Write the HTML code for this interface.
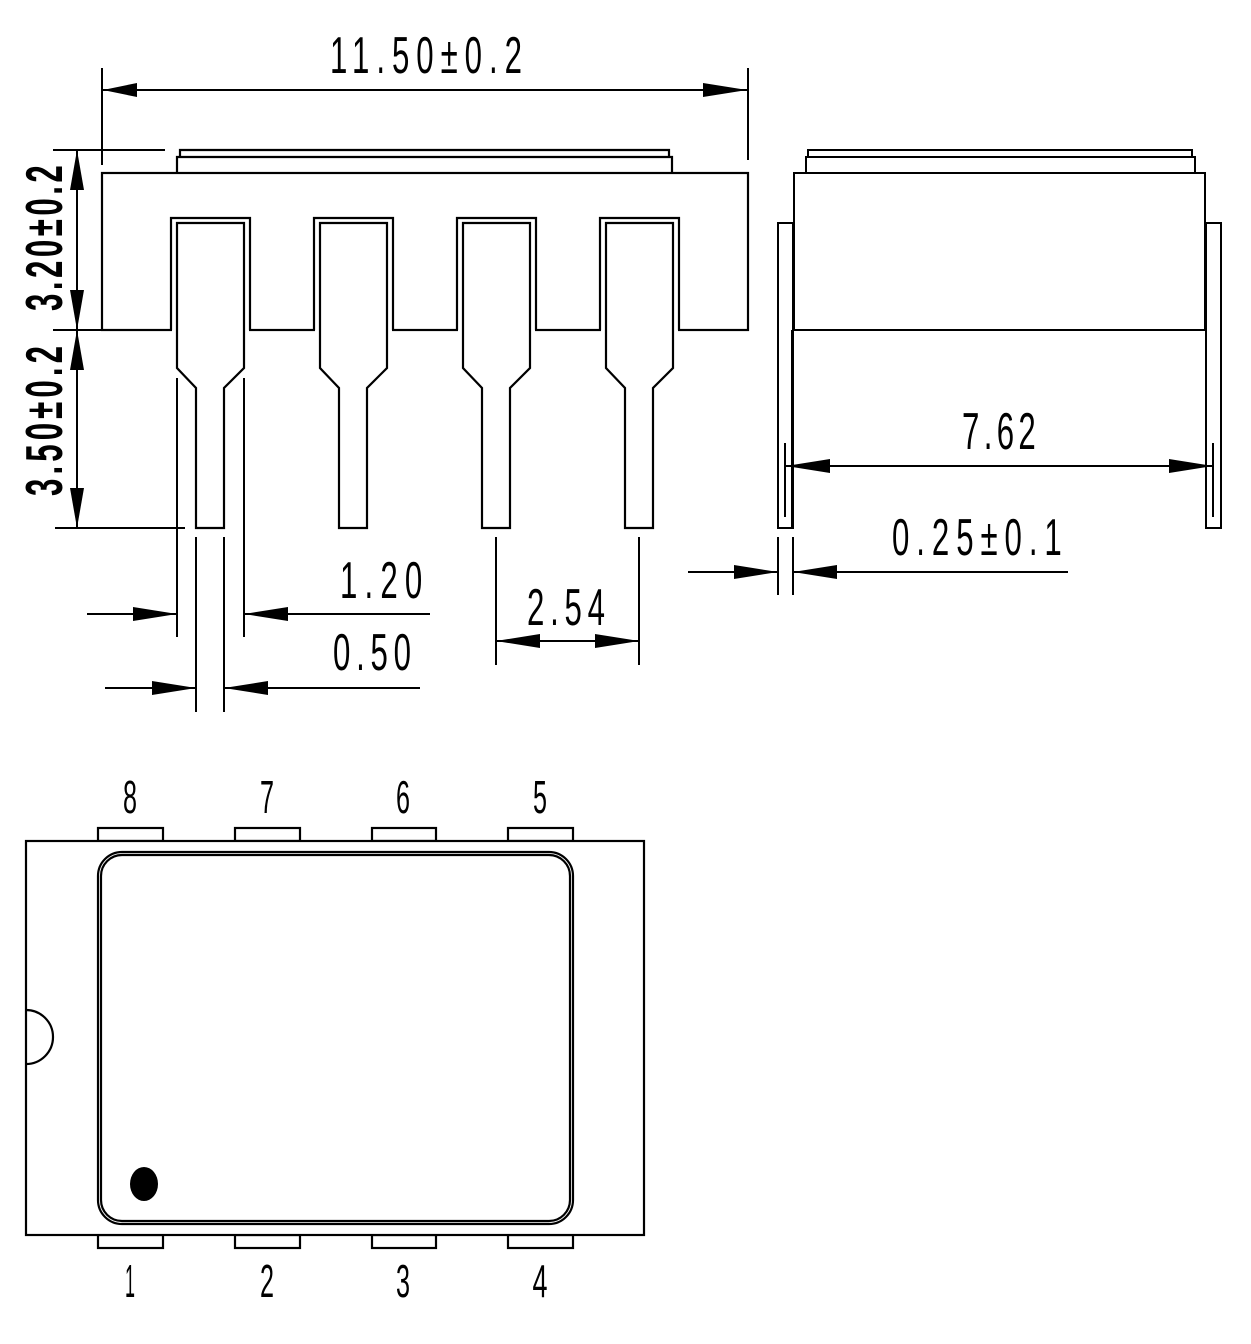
<!DOCTYPE html>
<html><head><meta charset="utf-8"><style>
html,body{margin:0;padding:0;background:#fff;}
svg{display:block;}
text{font-family:"Liberation Sans Narrow","Liberation Sans",sans-serif;fill:#000;}
</style></head><body>
<svg width="1251" height="1344" viewBox="0 0 1251 1344" xmlns="http://www.w3.org/2000/svg">
<defs>
<g id="pin" fill="none" stroke="#000" stroke-width="2.2">
  <path d="M171,330 V218 H250 V330"/>
  <path d="M177,330 V223 H244 V330"/>
  <path d="M177,330 V368 L196,388 V528 H224 V388 L244,368 V330"/>
</g>
</defs>
<g fill="none" stroke="#000" stroke-width="2.2">
  <rect x="102" y="173" width="646" height="157" fill="#fff"/>
  <path d="M177,173 V157 H672 V173"/>
  <path d="M180,157 V150 H669 V157"/>
</g>
<rect x="172" y="219" width="77" height="113" fill="#fff"/>
<rect x="315" y="219" width="77" height="113" fill="#fff"/>
<rect x="458" y="219" width="77" height="113" fill="#fff"/>
<rect x="601" y="219" width="77" height="113" fill="#fff"/>
<use href="#pin"/>
<use href="#pin" x="143"/>
<use href="#pin" x="286"/>
<use href="#pin" x="429"/>
<g fill="none" stroke="#000" stroke-width="2">
  <line x1="102" y1="68" x2="102" y2="165"/>
  <line x1="748" y1="68" x2="748" y2="160"/>
  <line x1="103" y1="90" x2="747" y2="90"/>
  <line x1="53" y1="150" x2="165" y2="150"/>
  <line x1="53" y1="330" x2="102" y2="330"/>
  <line x1="55" y1="528" x2="185" y2="528"/>
  <line x1="77" y1="150" x2="77" y2="528"/>
  <line x1="177" y1="378" x2="177" y2="637"/>
  <line x1="244" y1="378" x2="244" y2="637"/>
  <line x1="196" y1="537" x2="196" y2="712"/>
  <line x1="224" y1="537" x2="224" y2="712"/>
  <line x1="496" y1="537" x2="496" y2="665"/>
  <line x1="639" y1="537" x2="639" y2="665"/>
  <line x1="87" y1="614" x2="177" y2="614"/>
  <line x1="244" y1="614" x2="430" y2="614"/>
  <line x1="105" y1="688" x2="196" y2="688"/>
  <line x1="224" y1="688" x2="420" y2="688"/>
  <line x1="496" y1="641" x2="639" y2="641"/>
  <rect x="794" y="173" width="411" height="157" fill="#fff"/>
  <path d="M806,173 V157 H1195 V173"/>
  <path d="M808,157 V150 H1192 V157"/>
  <path d="M792,330 H1206"/>
  <path d="M792,330 V528"/>
  <path d="M1206,330 V528"/>
  <rect x="778" y="223" width="15" height="305"/>
  <rect x="1206" y="223" width="15" height="305"/>
  <line x1="785" y1="443" x2="785" y2="517"/>
  <line x1="1213" y1="443" x2="1213" y2="517"/>
  <line x1="786" y1="466" x2="1213" y2="466"/>
  <line x1="778" y1="537" x2="778" y2="595"/>
  <line x1="793" y1="537" x2="793" y2="595"/>
  <line x1="688" y1="572" x2="778" y2="572"/>
  <line x1="793" y1="572" x2="1068" y2="572"/>
</g>
<g fill="#000" stroke="none">
  <polygon points="103,90 137,83 137,97"/>
  <polygon points="747,90 703,83 703,97"/>
  <polygon points="77,150 70,190 84,190"/>
  <polygon points="77,330 70,290 84,290"/>
  <polygon points="77,330 70,370 84,370"/>
  <polygon points="77,528 70,488 84,488"/>
  <polygon points="177,614 133,607 133,621"/>
  <polygon points="244,614 288,607 288,621"/>
  <polygon points="196,688 152,681 152,695"/>
  <polygon points="224,688 268,681 268,695"/>
  <polygon points="496,641 540,634 540,648"/>
  <polygon points="639,641 595,634 595,648"/>
  <polygon points="786,466 830,459 830,473"/>
  <polygon points="1213,466 1169,459 1169,473"/>
  <polygon points="778,572 734,565 734,579"/>
  <polygon points="793,572 837,565 837,579"/>
</g>
<g fill="#fff" stroke="#000" stroke-width="2.2">
  <rect x="98" y="828" width="65" height="13"/>
  <rect x="235" y="828" width="65" height="13"/>
  <rect x="372" y="828" width="64" height="13"/>
  <rect x="508" y="828" width="65" height="13"/>
  <rect x="98" y="1235" width="65" height="13"/>
  <rect x="235" y="1235" width="65" height="13"/>
  <rect x="372" y="1235" width="64" height="13"/>
  <rect x="508" y="1235" width="65" height="13"/>
  <rect x="26" y="841" width="618" height="394"/>
  <rect x="98" y="852" width="475" height="372" rx="24"/>
  <rect x="101" y="855" width="469" height="366" rx="21"/>
  <path d="M26,1010 A27,27 0 0 1 26,1064" fill="none"/>
</g>
<ellipse cx="144" cy="1184" rx="14" ry="17" fill="#000"/>
<g font-size="52">
  <text transform="translate(330,73) scale(0.6,1)" textLength="320" lengthAdjust="spacing">11.50±0.2</text>
  <text transform="translate(340,598) scale(0.6,1)" textLength="137" lengthAdjust="spacing">1.20</text>
  <text transform="translate(333,670) scale(0.6,1)" textLength="130" lengthAdjust="spacing">0.50</text>
  <text transform="translate(527,625) scale(0.6,1)" textLength="130" lengthAdjust="spacing">2.54</text>
  <text transform="translate(962,449) scale(0.6,1)" textLength="123" lengthAdjust="spacing">7.62</text>
  <text transform="translate(892,555) scale(0.6,1)" textLength="283" lengthAdjust="spacing">0.25±0.1</text>
  <text transform="translate(62,311) rotate(-90) scale(0.6,1)" textLength="243" lengthAdjust="spacing" font-weight="bold">3.20±0.2</text>
  <text transform="translate(62,496) rotate(-90) scale(0.6,1)" textLength="250" lengthAdjust="spacing" font-weight="bold">3.50±0.2</text>
</g>
<g font-size="46" text-anchor="middle">
  <text x="130" y="813" textLength="14" lengthAdjust="spacingAndGlyphs">8</text>
  <text x="267" y="813" textLength="14" lengthAdjust="spacingAndGlyphs">7</text>
  <text x="403" y="813" textLength="14" lengthAdjust="spacingAndGlyphs">6</text>
  <text x="540" y="813" textLength="14" lengthAdjust="spacingAndGlyphs">5</text>
  <text x="130" y="1297" textLength="10" lengthAdjust="spacingAndGlyphs">1</text>
  <text x="267" y="1297" textLength="14" lengthAdjust="spacingAndGlyphs">2</text>
  <text x="403" y="1297" textLength="14" lengthAdjust="spacingAndGlyphs">3</text>
  <text x="540" y="1297" textLength="15" lengthAdjust="spacingAndGlyphs">4</text>
</g>
</svg>
</body></html>
